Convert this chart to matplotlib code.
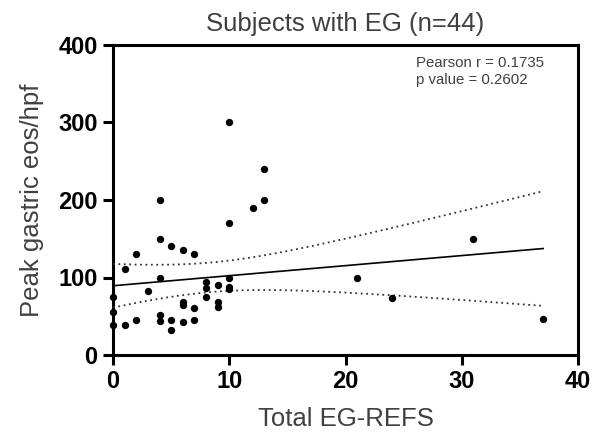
import numpy as np
import matplotlib
matplotlib.use("Agg")
import matplotlib.pyplot as plt

plt.rcParams['font.family'] = ['Liberation Sans', 'DejaVu Sans']

# Data
refs = [10, 13, 4, 13, 12, 10, 4, 5, 6, 7, 2, 1, 4, 10, 8, 8, 9, 10, 10, 3,
        0, 8, 6, 6, 9, 9, 7, 0, 4, 4, 5, 7, 2, 6, 0, 1, 5,
        21, 24, 31, 37]
eos = [300, 240, 200, 200, 190, 170, 150, 140, 135, 130, 130, 111, 100, 100, 94, 87, 90, 88, 85, 82,
       75, 75, 69, 64, 68, 62, 61, 55, 52, 44, 45, 45, 45, 43, 39, 39, 32,
       100, 74, 150, 47]

title = "Subjects with EG (n=44)"
xlabel = "Total EG-REFS"
ylabel = "Peak gastric eos/hpf"
stats_text = "Pearson r = 0.1735\np value = 0.2602"
xticks = [0, 10, 20, 30, 40]
yticks = [0, 100, 200, 300, 400]

x = np.array(refs, dtype=float)
y = np.array(eos, dtype=float)

fig = plt.figure(figsize=(5.96, 4.40), dpi=100)
ax = fig.add_axes([113/596, 1-355/440, (578-113)/596, (355-45)/440])

# Linear regression with 95% CI bands
n = len(x)
slope, intercept = np.polyfit(x, y, 1)
xf = np.linspace(x.min(), x.max(), 200)
yf = intercept + slope * xf
resid = y - (intercept + slope * x)
s = np.sqrt(np.sum(resid**2) / (n - 2))
sxx = np.sum((x - x.mean())**2)
tval = 2.02
se = s * np.sqrt(1.0/n + (xf - x.mean())**2 / sxx)
ax.plot(xf, yf, color='black', lw=1.2, zorder=3)
ax.plot(xf, yf + tval*se, color='#333333', lw=1.3, ls=(0, (1, 2)), zorder=3)
ax.plot(xf, yf - tval*se, color='#333333', lw=1.3, ls=(0, (1, 2)), zorder=3)

ax.scatter(x, y, s=28, color='black', zorder=5, clip_on=False, linewidths=0)

ax.set_xlim(0, 40)
ax.set_ylim(0, 400)
ax.set_xticks(xticks)
ax.set_yticks(yticks)
for sp in ax.spines.values():
    sp.set_linewidth(2.2)
    sp.set_color('black')
ax.tick_params(axis='both', direction='out', length=7, width=2.2, colors='black',
               labelsize=17, pad=4)
for lbl in ax.get_xticklabels() + ax.get_yticklabels():
    lbl.set_fontweight('bold')

ax.set_xlabel(xlabel, fontsize=18.5, color='#404040', labelpad=10)
ax.set_ylabel(ylabel, fontsize=18.5, color='#404040', labelpad=10)
ax.set_title(title, fontsize=18.5, color='#404040', pad=10)

ax.text(416/596, 1-56/440, stats_text, transform=fig.transFigure, fontsize=10.8,
        color='#404040', va='top', ha='left', linespacing=1.25)

fig.savefig("out.png", dpi=100)
